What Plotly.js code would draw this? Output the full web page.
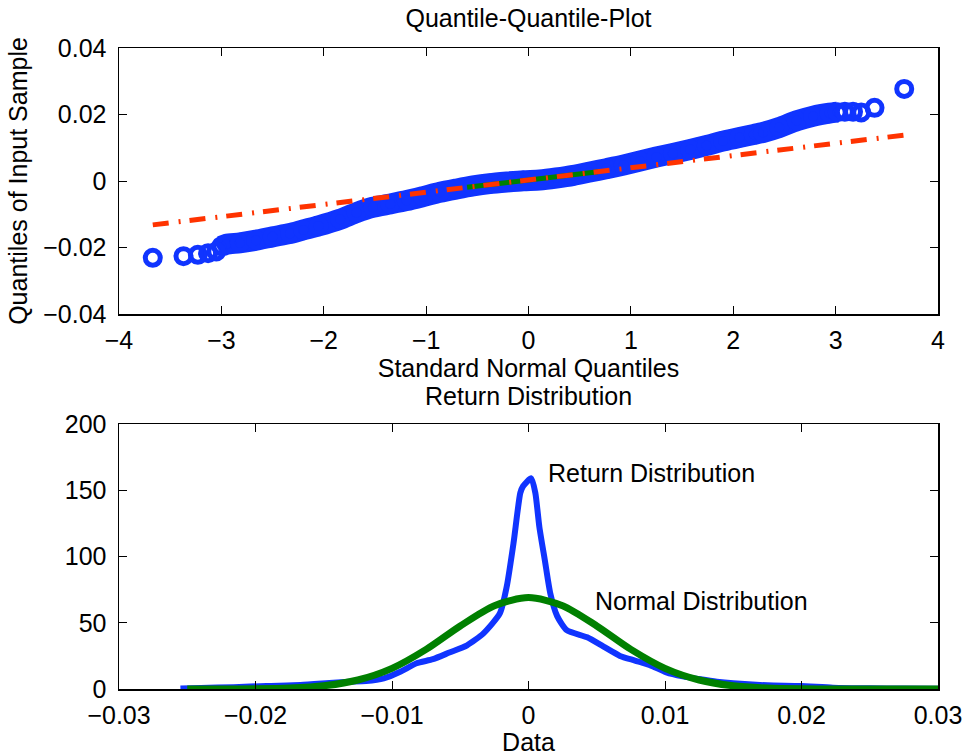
<!DOCTYPE html>
<html>
<head>
<meta charset="utf-8">
<script src="https://cdn.plot.ly/plotly-3.0.1.min.js"></script>
<style>html,body{margin:0;padding:0;background:#fff;}#chart{width:967px;height:756px;}</style>
</head>
<body>
<div id="chart"></div>
<script>
// ---- Top panel: Q-Q plot ----
// dense central part of sample (normal quantile, sample quantile)
const qqBandX = [-3.00, -2.95, -2.82, -2.66, -2.50, -2.33, -2.20, -2.05, -1.84, -1.68, -1.52, -1.35, -1.19, -1.03, -0.865, -0.70, -0.54, -0.38, -0.21, -0.05, 0.11, 0.27, 0.44, 0.60, 0.76, 0.93, 1.09, 1.25, 1.41, 1.58, 1.74, 1.90, 2.06, 2.20, 2.29, 2.45, 2.62, 2.78, 2.94, 3.02];
const qqBandY = [-0.0196, -0.0190, -0.0186, -0.0178, -0.0168, -0.0158, -0.0147, -0.0135, -0.0115, -0.0095, -0.0079, -0.0069, -0.0059, -0.0047, -0.0034, -0.0024, -0.0015, -0.0008, -0.0003, 0.0001, 0.0003, 0.0009, 0.0017, 0.0027, 0.0037, 0.0048, 0.0060, 0.0072, 0.0083, 0.0095, 0.0107, 0.0120, 0.0131, 0.0140, 0.0146, 0.0161, 0.0181, 0.0195, 0.0204, 0.0207];
// isolated tail observations
const qqTailX = [-3.67, -3.37, -3.23, -3.13, -3.05, 3.09, 3.17, 3.25, 3.38, 3.67];
const qqTailY = [-0.0231, -0.0226, -0.0222, -0.0217, -0.0212, 0.0208, 0.0208, 0.0206, 0.0220, 0.0277];
// reference line (extended, dash-dot) and inter-quartile segment
const refLineX = [-3.67, 3.67];
const refLineY = [-0.0132, 0.0138];
const iqrLineX = [-0.60, 0.68];
const iqrLineY = [-0.0019, 0.0028];

const qqXTicks = [-4, -3, -2, -1, 0, 1, 2, 3, 4];
const qqXTickText = ['\u22124', '\u22123', '\u22122', '\u22121', '0', '1', '2', '3', '4'];
const qqYTicks = [-0.04, -0.02, 0, 0.02, 0.04];
const qqYTickText = ['\u22120.04', '\u22120.02', '0', '0.02', '0.04'];

// ---- Bottom panel: densities ----
const retX = [-0.0255, -0.0240, -0.0216, -0.0192, -0.0167, -0.0143, -0.0131, -0.0119, -0.0106, -0.0094, -0.0082, -0.0070, -0.0058, -0.0045, -0.0033, -0.0021, -0.0016, -0.0011, -0.0006, -0.0004, 0.0002, 0.0005, 0.0008, 0.0012, 0.0016, 0.0021, 0.0028, 0.0043, 0.0055, 0.0067, 0.0078, 0.0089, 0.0101, 0.0113, 0.0126, 0.0138, 0.0150, 0.0175, 0.0199, 0.0223, 0.0250, 0.0275, 0.0300];
const retY = [0.3, 0.8, 1.3, 2.3, 3.0, 4.8, 5.5, 6.0, 8.0, 13.0, 19.4, 22.5, 27.5, 33.0, 42.0, 57.0, 77.0, 110.0, 148.0, 153.0, 159.0, 148.0, 122.0, 97.0, 72.0, 55.0, 44.5, 39.0, 32.0, 25.0, 21.5, 18.0, 12.5, 9.5, 7.3, 5.5, 4.3, 2.8, 2.3, 1.0, 0.5, 0.3, 0.2];
const normX = [-0.025, -0.0225, -0.02, -0.0175, -0.015, -0.0125, -0.01, -0.0075, -0.005, -0.0025, 0, 0.0025, 0.005, 0.0075, 0.01, 0.0125, 0.015, 0.0175, 0.02, 0.0225, 0.025, 0.0275, 0.03];
const normY = [0.0, 0.03, 0.18, 0.73, 2.4, 6.8, 15.6, 29.9, 47.6, 62.9, 69.0, 62.9, 47.6, 29.9, 15.6, 6.8, 2.4, 0.73, 0.18, 0.03, 0.0, 0.0, 0.0];

const dXTicks = [-0.03, -0.02, -0.01, 0, 0.01, 0.02, 0.03];
const dXTickText = ['\u22120.03', '\u22120.02', '\u22120.01', '0', '0.01', '0.02', '0.03'];
const dYTicks = [0, 50, 100, 150, 200];
const dYTickText = ['0', '50', '100', '150', '200'];

const BLUE = 'rgb(16,52,255)';
const RED = 'rgb(255,51,0)';
const GREEN = 'rgb(0,128,0)';
const FONT = 'Liberation Sans, Arial, Helvetica, sans-serif';
const FS = 25;

const traces = [
  {x: qqBandX, y: qqBandY, xaxis: 'x', yaxis: 'y', type: 'scatter', mode: 'lines+markers',
   line: {color: BLUE, width: 21, shape: 'spline', smoothing: 0.6}, marker: {symbol: 'circle-open', size: 15, color: BLUE, line: {width: 5, color: BLUE}}},
  {x: qqTailX, y: qqTailY, xaxis: 'x', yaxis: 'y', type: 'scatter', mode: 'markers',
   marker: {symbol: 'circle-open', size: 15, color: BLUE, line: {width: 5, color: BLUE}}},
  {x: iqrLineX, y: iqrLineY, xaxis: 'x', yaxis: 'y', type: 'scatter', mode: 'lines',
   line: {color: GREEN, width: 5}},
  {x: refLineX, y: refLineY, xaxis: 'x', yaxis: 'y', type: 'scatter', mode: 'lines',
   line: {color: RED, width: 5, dash: '16px,10px,2px,9px'}},
  {x: retX, y: retY, xaxis: 'x2', yaxis: 'y2', type: 'scatter', mode: 'lines',
   line: {color: BLUE, width: 6, shape: 'spline', smoothing: 0.6}},
  {x: normX, y: normY, xaxis: 'x2', yaxis: 'y2', type: 'scatter', mode: 'lines',
   line: {color: GREEN, width: 7, shape: 'spline', smoothing: 0.8}}
];

function axisBase() {
  return {
    showgrid: false, zeroline: false, showline: true, linecolor: '#000', linewidth: 1.5,
    mirror: 'ticks', ticks: 'inside', ticklen: 8, tickwidth: 1, tickcolor: '#000',
    tickfont: {family: FONT, size: FS, color: '#000'}, fixedrange: true
  };
}

const xDom = [119 / 967, 938 / 967];
const layout = {
  width: 967, height: 756,
  margin: {l: 0, r: 0, t: 0, b: 0},
  paper_bgcolor: '#fff', plot_bgcolor: '#fff',
  showlegend: false,
  font: {family: FONT, size: FS, color: '#000'},
  title: {text: 'Quantile-Quantile-Plot', font: {family: FONT, size: FS, color: '#000'},
          x: 528.5 / 967, xanchor: 'center', xref: 'paper', y: 1 - 18 / 756, yanchor: 'middle', yref: 'paper'},
  xaxis: Object.assign(axisBase(), {domain: xDom, anchor: 'y', range: [-4, 4], tickvals: qqXTicks, ticktext: qqXTickText,
    ticklabelstandoff: 3,
    title: {text: 'Standard Normal Quantiles', font: {family: FONT, size: FS, color: '#000'}, standoff: 2}}),
  yaxis: Object.assign(axisBase(), {domain: [1 - 314 / 756, 1 - 48 / 756], anchor: 'x', range: [-0.04, 0.04], tickvals: qqYTicks, ticktext: qqYTickText,
    ticklabelstandoff: 6,
    title: {text: 'Quantiles of Input Sample', font: {family: FONT, size: FS, color: '#000'}, standoff: 8}}),
  xaxis2: Object.assign(axisBase(), {domain: xDom, anchor: 'y2', range: [-0.03, 0.03], tickvals: dXTicks, ticktext: dXTickText,
    ticklabelstandoff: 3,
    title: {text: 'Data', font: {family: FONT, size: FS, color: '#000'}, standoff: 4}}),
  yaxis2: Object.assign(axisBase(), {domain: [1 - 689 / 756, 1 - 424 / 756], anchor: 'x2', range: [0, 200], tickvals: dYTicks, ticktext: dYTickText,
    ticklabelstandoff: 6}),
  annotations: [
    {text: 'Return Distribution', xref: 'paper', yref: 'paper', x: 528.5 / 967, y: 1 - 396 / 756,
     xanchor: 'center', yanchor: 'middle', showarrow: false, font: {family: FONT, size: FS, color: '#000'}},
    {text: 'Return Distribution', xref: 'x2', yref: 'y2', x: 0.00128, y: 163,
     xanchor: 'left', yanchor: 'middle', showarrow: false, font: {family: FONT, size: FS, color: '#000'}},
    {text: 'Normal Distribution', xref: 'x2', yref: 'y2', x: 0.00473, y: 66.4,
     xanchor: 'left', yanchor: 'middle', showarrow: false, font: {family: FONT, size: FS, color: '#000'}}
  ]
};

Plotly.newPlot('chart', traces, layout, {displayModeBar: false, staticPlot: true});
</script>
</body>
</html>
